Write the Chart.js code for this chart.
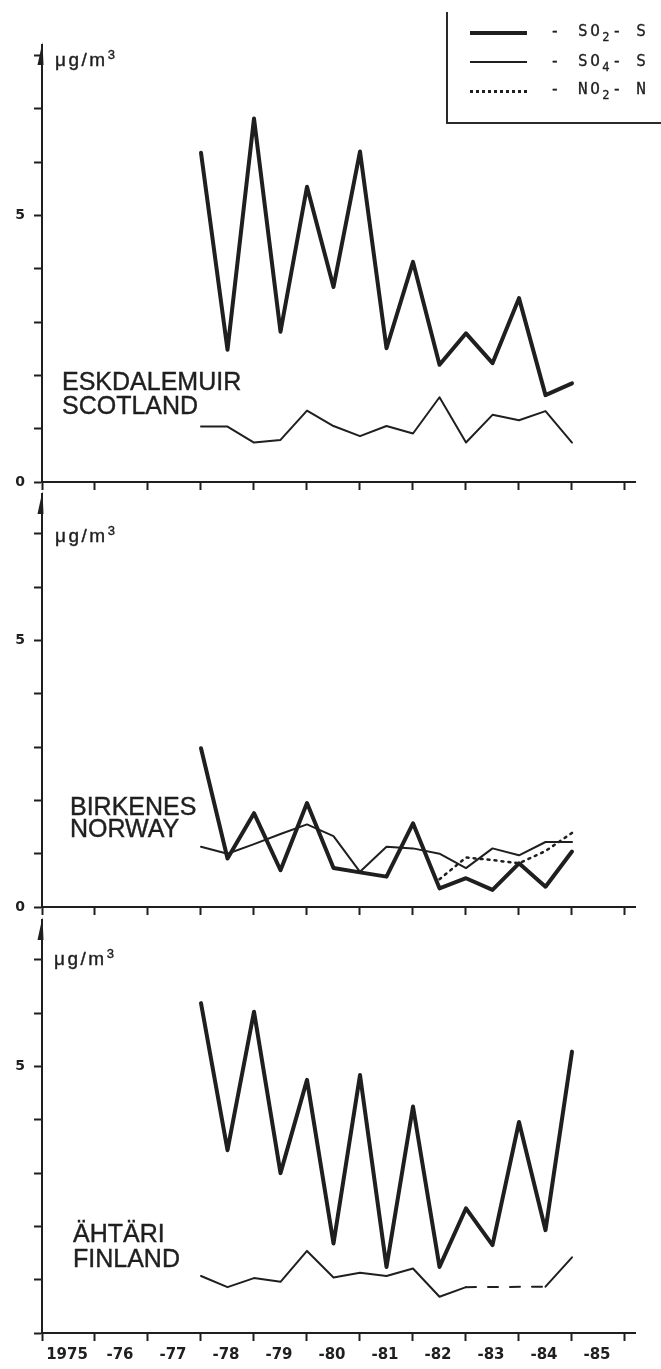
<!DOCTYPE html>
<html>
<head>
<meta charset="utf-8">
<script src="https://cdn.jsdelivr.net/npm/chart.js@4.4.0/dist/chart.umd.min.js"></script>
<style>
  html, body { margin: 0; padding: 0; background: #fff; }
  #page { position: relative; width: 661px; height: 1369px; overflow: hidden; background: #fff; }
  canvas { position: absolute; left: 0; }
  .station { position: absolute; font-family: 'Liberation Sans', Arial, sans-serif; font-size: 25px; color: #1f1f1f; white-space: nowrap; -webkit-text-stroke: 0.4px #1f1f1f; }
  .unit { position: absolute; font-family: 'Liberation Sans', Arial, sans-serif; font-size: 19px; letter-spacing: 2.5px; color: #1f1f1f; line-height: 18px; -webkit-text-stroke: 0.4px #1f1f1f; }
  .unit sup { font-size: 13px; vertical-align: 7px; line-height: 0; }
  #legend { position: absolute; left: 446px; top: 12px; width: 215px; height: 110px; border-left: 2px solid #2a2a2a; border-bottom: 2px solid #2a2a2a; }
  .lrow { position: absolute; left: 0; width: 215px; height: 18px; line-height: 18px; font-family: 'DejaVu Sans Mono', monospace; font-size: 16px; color: #1f1f1f; -webkit-text-stroke: 0.3px #1f1f1f; }
  .lrow .sample { position: absolute; left: 22px; width: 57px; height: 0; }
  .lrow .dash { position: absolute; left: 102px; }
  .lrow .lab { position: absolute; left: 130px; letter-spacing: 2.5px; }
  .lrow sub { font-size: 12px; vertical-align: -5px; line-height: 0; }
</style>
</head>
<body>
<div id="page">
  <canvas id="c1" width="661" height="500" style="top:0px"></canvas>
  <canvas id="c2" width="661" height="451" style="top:474px"></canvas>
  <canvas id="c3" width="661" height="469" style="top:900px"></canvas>

  <div id="legend">
    <div class="lrow" style="top:10px"><span class="sample" style="top:9px;border-top:4px solid #1f1f1f"></span><span class="dash">-</span><span class="lab">SO<sub>2</sub>- S</span></div>
    <div class="lrow" style="top:40px"><span class="sample" style="top:9px;border-top:2px solid #1f1f1f"></span><span class="dash">-</span><span class="lab">SO<sub>4</sub>- S</span></div>
    <div class="lrow" style="top:68px"><span class="sample" style="top:10px;border-top:3px dotted #1f1f1f"></span><span class="dash">-</span><span class="lab">NO<sub>2</sub>- N</span></div>
  </div>

  <div class="unit" style="left:55px;top:51px">μg/m<sup>3</sup></div>
  <div class="unit" style="left:55px;top:527px">μg/m<sup>3</sup></div>
  <div class="unit" style="left:54px;top:950px">μg/m<sup>3</sup></div>

  <div class="station" style="left:62px;top:369px;line-height:24px">ESKDALEMUIR<br>SCOTLAND</div>
  <div class="station" style="left:70px;top:795px;line-height:22px">BIRKENES<br>NORWAY</div>
  <div class="station" style="left:73px;top:1221px;line-height:25px">ÄHTÄRI<br>FINLAND</div>
</div>

<script>
// ─── Data ────────────────────────────────────────────────────────
// half-year means, winter/summer, 1978 - 1985
const HALF_YEARS = [1978, 1978.5, 1979, 1979.5, 1980, 1980.5, 1981, 1981.5, 1982, 1982.5, 1983, 1983.5, 1984, 1984.5, 1985];
const YEAR_LABELS = ['1975', '-76', '-77', '-78', '-79', '-80', '-81', '-82', '-83', '-84', '-85'];

// Eskdalemuir, Scotland
const ESK_SO2 = [6.18, 2.48, 6.82, 2.82, 5.54, 3.66, 6.2, 2.51, 4.13, 2.2, 2.79, 2.23, 3.45, 1.63, 1.85];
const ESK_SO4 = [1.04, 1.04, 0.74, 0.79, 1.34, 1.05, 0.86, 1.05, 0.91, 1.59, 0.74, 1.26, 1.16, 1.33, 0.74];

// Birkenes, Norway
const BIR_SO2 = [2.98, 0.91, 1.76, 0.69, 1.95, 0.73, 0.65, 0.57, 1.57, 0.35, 0.54, 0.32, 0.82, 0.38, 1.04];
const BIR_SO4 = [1.13, 1.0, 1.18, 1.37, 1.55, 1.33, 0.66, 1.13, 1.1, 1.0, 0.73, 1.1, 0.97, 1.22, 1.22];
const BIR_NO2 = [null, null, null, null, null, null, null, null, null, 0.52, 0.93, 0.88, 0.82, 1.05, 1.39];

// Ähtäri, Finland (SO4 missing 1983.5 - 1984, drawn dashed)
const AHT_SO2 = [6.19, 3.43, 6.03, 3.0, 4.75, 1.68, 4.84, 1.24, 4.25, 1.24, 2.34, 1.65, 3.96, 1.93, 5.28];
const AHT_SO4 = [1.07, 0.86, 1.03, 0.96, 1.54, 1.04, 1.13, 1.07, 1.21, 0.68, 0.86, null, null, 0.87, 1.42];

const INK = '#1f1f1f';

// ─── Helpers ─────────────────────────────────────────────────────
const pts = arr => HALF_YEARS.map((x, i) => ({ x, y: arr[i] }));

const so2 = arr => ({ data: pts(arr), borderColor: INK, borderWidth: 4 });
const so4 = arr => ({
  data: pts(arr), borderColor: INK, borderWidth: 2, spanGaps: true,
  segment: { borderDash: ctx => (ctx.p0.skip || ctx.p1.skip) ? [10, 12] : undefined }
});
const no2 = arr => ({ data: pts(arr), borderColor: INK, borderWidth: 2.5, borderDash: [2, 5], borderCapStyle: 'round' });

// little arrowhead on top of the y axis
const axisArrow = {
  id: 'axisArrow',
  afterDraw(chart) {
    const { left, top } = chart.chartArea;
    const c = chart.ctx;
    c.save();
    c.fillStyle = INK;
    c.beginPath();
    c.moveTo(left + 0.5, top - 3);
    c.lineTo(left - 4.5, top + 20);
    c.lineTo(left + 1.5, top + 20);
    c.closePath();
    c.fill();
    c.restore();
  }
};

function makePanel(id, datasets, o) {
  return new Chart(document.getElementById(id), {
    type: 'line',
    data: { datasets },
    options: {
      responsive: false,
      animation: false,
      devicePixelRatio: 1,
      layout: { padding: { top: o.padTop, right: 25.4, left: 0, bottom: 0 } },
      plugins: { legend: { display: false }, tooltip: { enabled: false } },
      elements: {
        point: { radius: 0, hoverRadius: 0 },
        line: { tension: 0, borderJoinStyle: 'round', borderCapStyle: 'round', fill: false }
      },
      scales: {
        x: {
          type: 'linear', min: 1975, max: 1986.2,
          afterFit: s => { s.height = o.xHeight; },
          ticks: {
            stepSize: 1, includeBounds: false, autoSkip: false, maxRotation: 0,
            labelOffset: 25, padding: 5, color: INK,
            font: { family: "'DejaVu Sans', sans-serif", size: 15, weight: 'bold' },
            callback: v => o.showYears ? (YEAR_LABELS[v - 1975] || '') : ''
          },
          grid: { drawOnChartArea: false, tickLength: 8, tickWidth: 2, tickColor: INK },
          border: { color: INK, width: 2 }
        },
        y: {
          min: 0, max: o.yMax,
          afterFit: s => { s.width = 42; },
          ticks: {
            stepSize: 1, includeBounds: false, padding: 9, color: INK,
            font: { family: "'DejaVu Sans', sans-serif", size: 14, weight: 'bold' },
            callback: v => (o.yLabels.includes(v) ? String(v) : '')
          },
          grid: { drawOnChartArea: false, tickLength: 8, tickWidth: 2, tickColor: INK },
          border: { color: INK, width: 2 }
        }
      }
    },
    plugins: [axisArrow]
  });
}

// ─── Panels ──────────────────────────────────────────────────────
makePanel('c1', [so4(ESK_SO4), so2(ESK_SO2)],
  { padTop: 45, yMax: 8.2, xHeight: 18, showYears: false, yLabels: [0, 5] });

makePanel('c2', [so4(BIR_SO4), no2(BIR_NO2), so2(BIR_SO2)],
  { padTop: 20, yMax: 7.75, xHeight: 18, showYears: false, yLabels: [0, 5] });

makePanel('c3', [so4(AHT_SO4), so2(AHT_SO2)],
  { padTop: 20, yMax: 7.75, xHeight: 36, showYears: true, yLabels: [5] });
</script>
</body>
</html>
